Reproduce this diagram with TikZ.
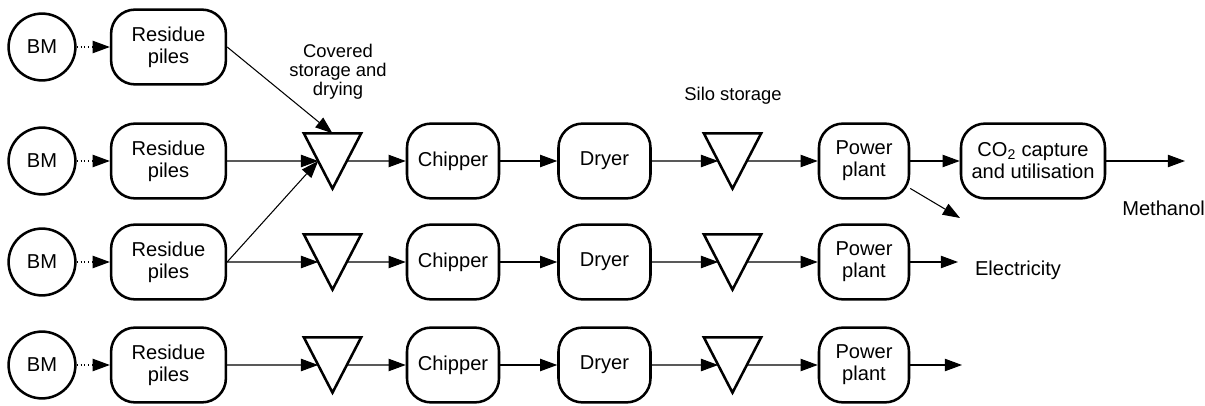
\documentclass[tikz,border=0pt]{standalone}
\usepackage{fontspec}
\setmainfont{Liberation Sans}
\usetikzlibrary{arrows.meta,calc}
\begin{document}
\begin{tikzpicture}[
    box/.style={draw, line width=1.8pt, rounded corners=0.6cm, minimum height=1.87cm, align=center, font=\fontsize{14.3}{15.6}\selectfont},
    bm/.style={circle, draw, line width=1.8pt, minimum size=1.67cm, font=\fontsize{14.3}{15.6}\selectfont},
    store/.style={minimum width=1.42cm, minimum height=1.37cm, inner sep=0pt},
    tri/.style={line width=1.8pt, line join=miter},
    flow/.style={-{Triangle[length=0.43cm, width=0.31cm]}, line width=0.75pt},
    feed/.style={flow, dotted},
    lbl/.style={align=center, inner sep=0pt, font=\fontsize{13.1}{13.8}\selectfont},
    prodlbl/.style={inner sep=0pt, font=\fontsize{14.3}{15.6}\selectfont}
  ]
    \useasboundingbox (0,0) rectangle (30.125,10.125);
    % biomass and residue piles
    \foreach \i/\y in {1/8.95,2/6.1,3/3.575,4/1.0} {
      \node[bm] (bm\i) at (1.05,\y) {BM};
      \node[box, minimum width=2.87cm] (res\i) at (4.2125,\y) {Residue\\piles};
      \draw[feed] (bm\i) -- (res\i);
    }
    % storage, chipping, drying, power
    \foreach \i/\y in {2/6.1,3/3.575,4/1.0} {
      \node[store] (cs\i) at (8.3125,\y) {};
      \node[box, minimum width=2.3cm] (chip\i) at (11.325,\y) {Chipper};
      \node[box, minimum width=2.3cm] (dry\i) at (15.1125,\y) {Dryer};
      \node[store] (ss\i) at (18.3125,\y) {};
      \node[box, minimum width=2.25cm] (pp\i) at (21.6,\y) {Power\\plant};
    }
    \foreach \t in {cs2,cs3,cs4,ss2,ss3,ss4} {
      \draw[tri] (\t.north west) -- (\t.north east) -- (\t.south) -- cycle;
      \coordinate (\t-l) at ($(\t.north west)!0.5!(\t.south)$);
      \coordinate (\t-r) at ($(\t.north east)!0.5!(\t.south)$);
    }
    \node[box, minimum width=3.6cm] (ccu) at (25.825,6.1) {CO\textsubscript{2} capture\\and utilisation};
    \node[lbl] (covlbl) at (8.45,8.33) {Covered\\storage and\\drying};
    \node[lbl] (silolbl) at (18.325,7.74) {Silo storage};
    \node[prodlbl] (meth) at (29.09,4.925) {Methanol};
    \node[prodlbl] (elec) at (25.45,3.375) {Electricity};
    \coordinate (methend) at (29.625,6.1);
    \coordinate (elec2end) at (24.0,4.675);
    \coordinate (elec3end) at (23.95,3.575);
    \coordinate (elec4end) at (24.05,1.0);
    % flows
    \draw[flow] (res1.east) -- (cs2.north);
    \draw[flow] (res2) -- (cs2-l);
    \draw[flow] (res3.east) -- (cs2-l);
    \draw[flow] (res3) -- (cs3-l);
    \draw[flow] (res4) -- (cs4-l);
    \foreach \i in {2,3,4} {
      \draw[flow] (cs\i-r) -- (chip\i);
      \draw[flow] (chip\i) -- (dry\i);
      \draw[flow] (dry\i) -- (ss\i-l);
      \draw[flow] (ss\i-r) -- (pp\i);
    }
    \draw[flow] (pp2) -- (ccu);
    \draw[flow] (ccu) -- (methend);
    \draw[flow] (pp2) -- (elec2end);
    \draw[flow] (pp3) -- (elec3end);
    \draw[flow] (pp4) -- (elec4end);
  \end{tikzpicture}
\end{document}
